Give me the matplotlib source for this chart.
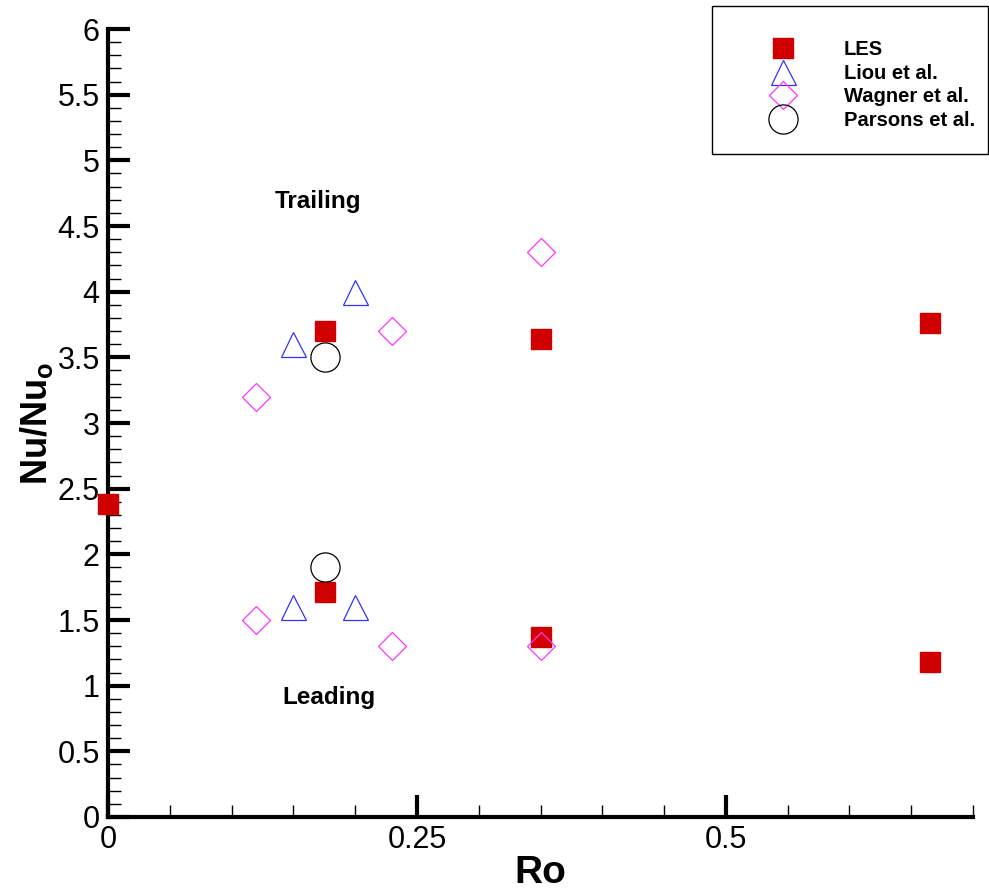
import matplotlib
matplotlib.use("Agg")
import matplotlib.pyplot as plt
from matplotlib.ticker import MultipleLocator, FixedLocator, FuncFormatter
from matplotlib.patches import Rectangle

plt.rcParams['font.family'] = ['Liberation Sans', 'DejaVu Sans']
plt.rcParams['mathtext.fontset'] = 'custom'
plt.rcParams['mathtext.rm'] = 'Liberation Sans:bold'
plt.rcParams['mathtext.bf'] = 'Liberation Sans:bold'
plt.rcParams['mathtext.it'] = 'Liberation Sans:bold'

# Data
les_x = [0.0, 0.176, 0.35, 0.665, 0.176, 0.35, 0.665]
les_y = [2.38, 3.70, 3.64, 3.76, 1.71, 1.37, 1.18]
liou_x = [0.15, 0.20, 0.15, 0.20]
liou_y = [3.60, 4.00, 1.60, 1.60]
wagner_x = [0.12, 0.23, 0.35, 0.12, 0.23, 0.35]
wagner_y = [3.20, 3.70, 4.30, 1.50, 1.30, 1.30]
parsons_x = [0.176, 0.176]
parsons_y = [3.50, 1.90]

x_ticks = [0, 0.25, 0.5]
y_ticks = [0, 0.5, 1, 1.5, 2, 2.5, 3, 3.5, 4, 4.5, 5, 5.5, 6]

W, H = 989, 892
fig = plt.figure(figsize=(W/100, H/100), dpi=100)
ax = fig.add_axes([108/W, 75/H, (973-108)/W, (817-29)/H])

ax.plot(les_x, les_y, ls='none', marker='s', ms=15, mfc='#d00000', mec='#d00000', label='LES', clip_on=False, zorder=3)
ax.plot(liou_x, liou_y, ls='none', marker='^', ms=18, mfc='none', mec='#3333ff', mew=0.9, label='Liou et al.', clip_on=False, zorder=3)
ax.plot(wagner_x, wagner_y, ls='none', marker='D', ms=14.5, mfc='none', mec='#ff33ff', mew=0.9, label='Wagner et al.', clip_on=False, zorder=3)
ax.plot(parsons_x, parsons_y, ls='none', marker='o', ms=21, mfc='none', mec='black', mew=0.9, label='Parsons et al.', clip_on=False, zorder=3)

ax.set_xlim(0, 0.7)
ax.set_ylim(0, 6)
ax.xaxis.set_major_locator(FixedLocator(x_ticks))
ax.xaxis.set_minor_locator(MultipleLocator(0.05))
ax.yaxis.set_major_locator(FixedLocator(y_ticks))
ax.yaxis.set_minor_locator(MultipleLocator(0.1))
fmt = FuncFormatter(lambda v, p: '%g' % v)
ax.xaxis.set_major_formatter(fmt)
ax.yaxis.set_major_formatter(fmt)

for s in ['top', 'right']:
    ax.spines[s].set_visible(False)
for s in ['left', 'bottom']:
    ax.spines[s].set_linewidth(3)

ax.tick_params(which='major', direction='in', length=16, width=3, labelsize=22, pad=6)
ax.tick_params(which='minor', direction='in', length=9, width=1)

ax.set_xlabel('Ro', fontsize=28, fontweight='bold', labelpad=0)
ax.set_ylabel(r'Nu/Nu$_\mathrm{o}$', fontsize=26, fontweight='bold', labelpad=2)

ax.text(0.135, 4.69, 'Trailing', fontsize=17.5, fontweight='bold', va='center', ha='left')
ax.text(0.141, 0.91, 'Leading', fontsize=17.5, fontweight='bold', va='center', ha='left')

# legend frame (drawn separately so its padding can be asymmetric)
fig.patches.append(Rectangle((712/W, 1 - 154/H), (988-712)/W, (154-6)/H,
                             transform=fig.transFigure, fill=False,
                             edgecolor='black', linewidth=1.0, zorder=5))
leg = fig.legend(loc='upper left', bbox_to_anchor=(729/W, 0.993),
                 prop={'weight': 'bold', 'size': 14.5}, frameon=False,
                 borderpad=1.7, labelspacing=0.22, handletextpad=2.0,
                 borderaxespad=0, handlelength=2.0, numpoints=1)

fig.savefig('out.png', dpi=100)
